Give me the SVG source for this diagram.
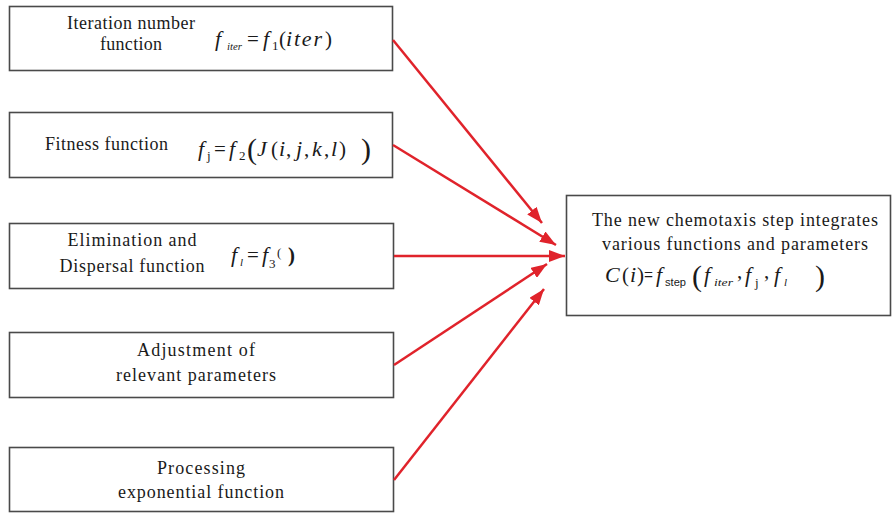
<svg xmlns="http://www.w3.org/2000/svg" width="893" height="513" viewBox="0 0 893 513">
<style>
.box{fill:#fff;stroke:#4a4a4a;stroke-width:1.6}
.t{font-family:"Liberation Serif","DejaVu Serif","Times New Roman",serif;font-size:18px;fill:#1a1a1a}
.c{text-anchor:middle}
.m{font-family:"Liberation Serif","DejaVu Serif","Times New Roman",serif;font-style:italic;font-size:22px;fill:#1a1a1a}
.mr{font-family:"Liberation Serif","DejaVu Serif","Times New Roman",serif;font-size:21px;fill:#1a1a1a}
.ms{font-family:"Liberation Serif","DejaVu Serif","Times New Roman",serif;font-style:italic;font-size:11px;fill:#1a1a1a}
.sr{font-family:"Liberation Serif","DejaVu Serif","Times New Roman",serif;font-size:13px;fill:#1a1a1a}
.ss{font-family:"Liberation Sans",Arial,sans-serif;font-size:11px;fill:#1a1a1a}
.big{font-family:"Liberation Serif","DejaVu Serif","Times New Roman",serif;font-size:30px;fill:#1a1a1a}
.arr{stroke:#e0232b;stroke-width:2.5;fill:none;marker-end:url(#ah)}
</style>
<defs>
<marker id="ah" viewBox="0 0 16 12" refX="16" refY="6" markerWidth="16" markerHeight="12" markerUnits="userSpaceOnUse" orient="auto">
<path d="M0,0 L16,6 L0,12 Z" fill="#e0232b"/>
</marker>
</defs>
<rect width="893" height="513" fill="#fff"/>

<g id="node-iteration">
<rect class="box" x="9.5" y="6.5" width="383" height="64"/>
<text class="t c" x="131" y="29" textLength="128" lengthAdjust="spacing">Iteration number</text>
<text class="t c" x="131" y="50" textLength="62" lengthAdjust="spacing">function</text>
<text class="m" x="215" y="46">f</text>
<text class="ms" x="227" y="50" textLength="15" lengthAdjust="spacingAndGlyphs">iter</text>
<text class="mr" x="247" y="46">=</text>
<text class="m" x="263" y="46">f</text>
<text class="sr" x="272" y="50">1</text>
<text class="mr" x="279" y="46">(</text>
<text class="m" x="286" y="46" textLength="36" lengthAdjust="spacing">iter</text>
<text class="mr" x="325" y="46">)</text>
</g>

<g id="node-fitness">
<rect class="box" x="9.5" y="112.5" width="383" height="65"/>
<text class="t" x="45" y="150" textLength="123" lengthAdjust="spacing">Fitness function</text>
<text class="m" x="198" y="156">f</text>
<text class="sr" x="207" y="160">j</text>
<text class="mr" x="214" y="156">=</text>
<text class="m" x="229" y="156">f</text>
<text class="sr" x="239" y="160">2</text>
<text class="big" x="247" y="159">(</text>
<text class="m" x="257" y="156">J</text>
<text class="mr" x="271" y="156">(</text>
<text class="m" x="279" y="156">i</text>
<text class="mr" x="286" y="156">,</text>
<text class="m" x="296" y="156">j</text>
<text class="mr" x="304" y="156">,</text>
<text class="m" x="312" y="156">k</text>
<text class="mr" x="324" y="156">,</text>
<text class="m" x="331" y="156">l</text>
<text class="mr" x="339" y="156">)</text>
<text class="big" x="361" y="159">)</text>
</g>

<g id="node-elimination">
<rect class="box" x="9.5" y="223.5" width="384" height="65"/>
<text class="t c" x="132" y="246" textLength="129" lengthAdjust="spacing">Elimination and</text>
<text class="t c" x="132" y="272" textLength="145" lengthAdjust="spacing">Dispersal function</text>
<text class="m" x="231" y="262">f</text>
<text class="ms" x="240" y="266">l</text>
<text class="mr" x="247" y="262">=</text>
<text class="m" x="262" y="262">f</text>
<text class="sr" x="269" y="268">3</text>
<text class="sr" x="277" y="257">(</text>
<text class="mr" x="288" y="262" font-weight="bold">)</text>
</g>

<g id="node-adjustment">
<rect class="box" x="9.5" y="332.5" width="384" height="65"/>
<text class="t c" x="196" y="356" textLength="118" lengthAdjust="spacing">Adjustment of</text>
<text class="t c" x="196" y="381" textLength="160" lengthAdjust="spacing">relevant parameters</text>
</g>

<g id="node-processing">
<rect class="box" x="9.5" y="447.5" width="384" height="64"/>
<text class="t c" x="201" y="474" textLength="88" lengthAdjust="spacing">Processing</text>
<text class="t c" x="201" y="498" textLength="166" lengthAdjust="spacing">exponential function</text>
</g>

<g id="node-chemotaxis">
<rect class="box" x="566.5" y="195.5" width="324" height="120"/>
<text class="t c" x="735" y="226" textLength="286" lengthAdjust="spacing">The new chemotaxis step integrates</text>
<text class="t c" x="735" y="250" textLength="266" lengthAdjust="spacing">various functions and parameters</text>
<text class="m" x="605" y="282" font-size="24">C</text>
<text class="mr" x="622" y="282">(</text>
<text class="m" x="630" y="282">i</text>
<text class="mr" x="637" y="282">)</text>
<text class="mr" x="644" y="282" textLength="9" lengthAdjust="spacingAndGlyphs">=</text>
<text class="m" x="656" y="282">f</text>
<text class="ss" x="665" y="286" textLength="21" lengthAdjust="spacingAndGlyphs">step</text>
<text class="big" x="692" y="286">(</text>
<text class="m" x="704" y="282">f</text>
<text class="ms" x="714" y="286" textLength="19" lengthAdjust="spacingAndGlyphs">iter</text>
<text class="mr" x="737" y="278">,</text>
<text class="m" x="745" y="282">f</text>
<text class="sr" x="755" y="287">j</text>
<text class="mr" x="764" y="278">,</text>
<text class="m" x="774" y="282">f</text>
<text class="ms" x="784" y="286">l</text>
<text class="big" x="815" y="286">)</text>
</g>

<g id="connectors">
<line class="arr" x1="393" y1="40" x2="542" y2="223"/>
<line class="arr" x1="393" y1="145" x2="556" y2="245"/>
<line class="arr" x1="394" y1="256" x2="565" y2="256"/>
<line class="arr" x1="394" y1="365" x2="547" y2="264"/>
<line class="arr" x1="394" y1="480" x2="544" y2="289"/>
</g>
</svg>
